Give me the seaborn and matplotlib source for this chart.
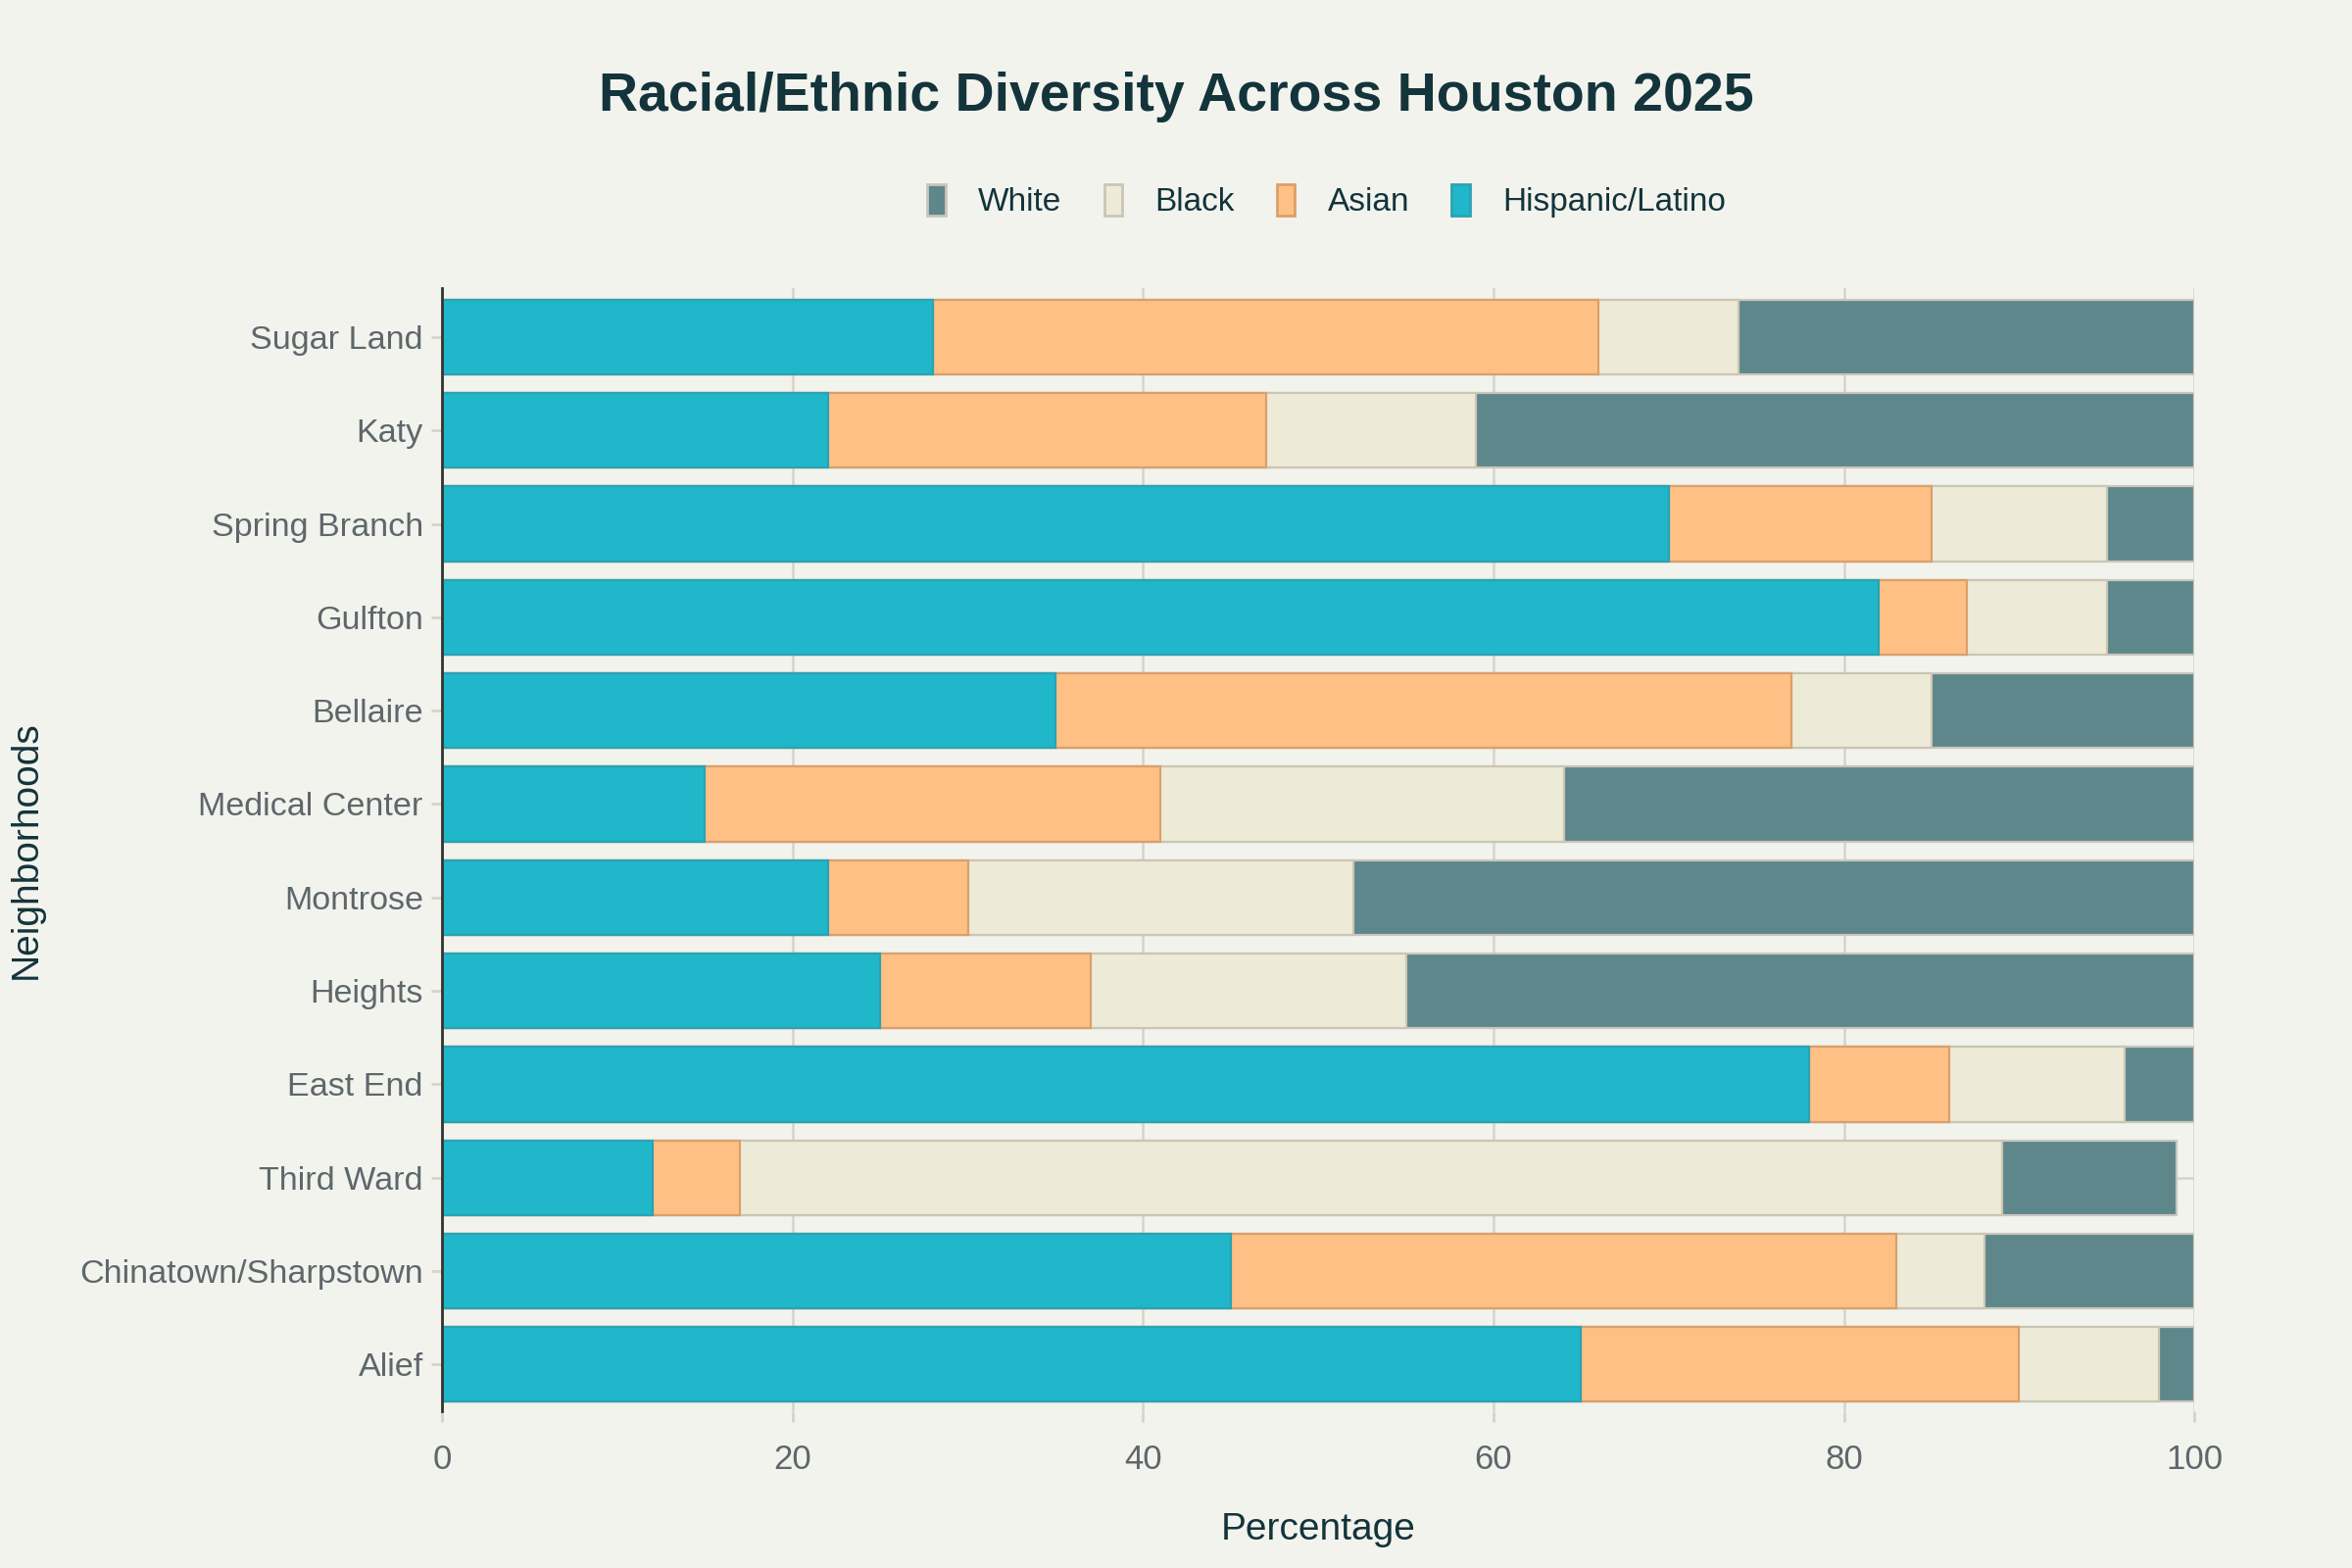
import matplotlib
matplotlib.use("Agg")
import matplotlib.pyplot as plt
import seaborn as sns
import pandas as pd
import numpy as np
from matplotlib.patches import Patch

neighborhoods = ["Sugar Land", "Katy", "Spring Branch", "Gulfton", "Bellaire",
                 "Medical Center", "Montrose", "Heights", "East End", "Third Ward",
                 "Chinatown/Sharpstown", "Alief"]
hispanic = [28, 22, 70, 82, 35, 15, 22, 25, 78, 12, 45, 65]
asian = [38, 25, 15, 5, 42, 26, 8, 12, 8, 5, 38, 25]
black = [8, 12, 10, 8, 8, 23, 22, 18, 10, 72, 5, 8]
white = [26, 41, 5, 5, 15, 36, 48, 45, 4, 10, 12, 2]

groups = ["Hispanic/Latino", "Asian", "Black", "White"]
colors = {"Hispanic/Latino": "#21B7CB", "Asian": "#FFC085",
          "Black": "#EDEBD7", "White": "#5E878C"}
edges = {"Hispanic/Latino": "#2aa3b3", "Asian": "#d9a06c",
         "Black": "#cbc6b4", "White": "#c9c6bb"}

df = pd.DataFrame({"Neighborhood": neighborhoods, "Hispanic/Latino": hispanic,
                   "Asian": asian, "Black": black, "White": white})
cum = df[groups].cumsum(axis=1)

BG = "#F3F3EE"
DARK = "#13343B"
GREY = "#5E676B"

sns.set_theme(style="white")
plt.rcParams['font.family'] = ['Liberation Sans', 'DejaVu Sans']

fig = plt.figure(figsize=(12, 8), dpi=200, facecolor=BG)
ax = fig.add_axes([0.188, 0.10, 0.745, 0.716])
ax.set_facecolor(BG)

for g in reversed(groups):
    sns.barplot(x=cum[g].values, y=df["Neighborhood"], orient="h",
                color=colors[g], edgecolor=edges[g], linewidth=0.8,
                width=0.8, ax=ax, zorder=3, order=neighborhoods, saturation=1)

ax.set_xlim(0, 100)
ax.set_ylim(11.5, -0.52)
ax.set_xticks([0, 20, 40, 60, 80, 100])
ax.grid(True, axis="both", color="#D6D3CA", linewidth=0.9, zorder=0)
ax.set_axisbelow(True)
for s in ["top", "right", "bottom"]:
    ax.spines[s].set_visible(False)
ax.spines["left"].set_color("#333333")
ax.spines["left"].set_linewidth(1.0)
ax.spines["left"].set_zorder(5)
ax.tick_params(axis="both", colors="#D6D3CA", length=4, width=1, labelcolor=GREY,
               labelsize=12.3, pad=3, direction="out", left=True, bottom=True)
ax.tick_params(axis="x", labelsize=12.5, pad=8)

ax.set_xlabel("Percentage", fontsize=14, color=DARK)
ax.set_ylabel("Neighborhoods", fontsize=14, color=DARK)
ax.xaxis.set_label_coords(0.5, -0.1056)
ax.xaxis.label.set_va("center")
ax.yaxis.set_label_coords(-0.2376, 0.5)
ax.yaxis.label.set_va("center")

fig.text(0.5, 0.938, "Racial/Ethnic Diversity Across Houston 2025", ha="center",
         va="center", fontsize=20, fontweight="bold", color=DARK)

handles = [Patch(facecolor=colors[g], edgecolor=edges[g], label=g)
           for g in ["White", "Black", "Asian", "Hispanic/Latino"]]
leg = fig.legend(handles=handles, loc="center", bbox_to_anchor=(0.564, 0.872),
                 ncol=4, frameon=False, fontsize=12, handlelength=0.55,
                 handleheight=1.1, columnspacing=1.3, handletextpad=1.0)
for t in leg.get_texts():
    t.set_color(DARK)

fig.savefig("out.png", dpi=200, facecolor=BG)
